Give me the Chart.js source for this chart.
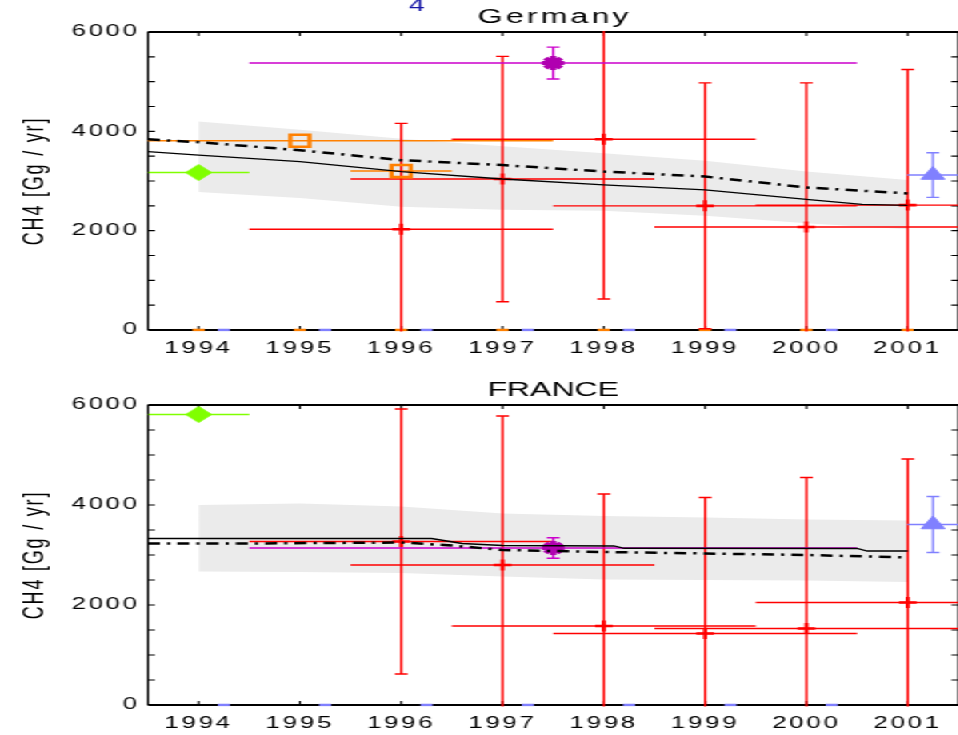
<!DOCTYPE html>
<html>
<head>
<meta charset="utf-8">
<script src="https://cdn.jsdelivr.net/npm/chart.js@4.4.1/dist/chart.umd.min.js"></script>
<style>
  html, body { margin: 0; padding: 0; overflow: hidden; background: #fff; }
  /* the source picture is stretched sideways, so is this one */
  #wrap { position: absolute; left: 0; top: 0; width: 610px; height: 735px;
          transform: scaleX(1.6); transform-origin: 0 0; }
  #wrap canvas { position: absolute; left: 0; }
</style>
</head>
<body>
<div id="wrap">
  <canvas id="germany" width="610" height="365" style="top:0"></canvas>
  <canvas id="france" width="610" height="362" style="top:373px"></canvas>
</div>
<script>
(function () {
  'use strict';

  // axes
  const xTicks = [1994, 1995, 1996, 1997, 1998, 1999, 2000, 2001];
  const xTickLabels = ['1994', '1995', '1996', '1997', '1998', '1999', '2000', '2001'];
  const yTicks = [0, 2000, 4000, 6000];
  const yTickLabels = ['0', '2000', '4000', '6000'];
  const yMinorStep = 500;

  // Germany
  const deBandYears = [1994, 1995, 1996, 1997, 1998, 1999, 2000, 2001];
  const deBandHigh = [4200, 4030, 3850, 3700, 3560, 3410, 3190, 3020];
  const deBandLow = [2780, 2660, 2480, 2420, 2400, 2300, 2150, 2030];
  const deSolidYears = [1993.5, 1994, 1995, 1996, 1997, 1998, 1999, 2000, 2000.55, 2001];
  const deSolid = [3590, 3520, 3390, 3190, 3040, 2920, 2820, 2630, 2530, 2510];
  const deDashYears = [1993.5, 1994, 1995, 1996, 1997, 1998, 1999, 2000, 2001];
  const deDash = [3840, 3780, 3620, 3420, 3320, 3190, 3090, 2870, 2750];
  const deRedYears = [1996, 1997, 1998, 1999, 2000, 2001];
  const deRed = [2030, 3040, 3840, 2500, 2075, 2515];
  const deRedErr = [2130, 2470, 3215, 2475, 2900, 2730];
  const deMagentaYears = [1997.5];
  const deMagenta = [5375];
  const deMagentaErr = [320];
  const deGreenYears = [1994];
  const deGreen = [3170];
  const deOrangeYears = [1995, 1996];
  const deOrange = [3810, 3200];
  const deOrangeXErr = [2.5, 0.5];
  const deBlueYears = [2001.25];
  const deBlue = [3120];
  const deBlueErr = [450];
  const deOrangeZeroYears = [1994, 1995, 1996, 1997, 1998, 1999, 2000, 2001];
  const deOrangeZero = [0, 0, 0, 0, 0, 0, 0, 0];
  const deBlueZeroYears = [1994.25, 1995.25, 1996.25, 1997.25, 1998.25, 1999.25, 2000.25];
  const deBlueZero = [0, 0, 0, 0, 0, 0, 0];

  // France
  const frBandYears = [1994, 1995, 1996, 1997, 1998, 1999, 2000, 2001];
  const frBandHigh = [4000, 4030, 3970, 3830, 3780, 3750, 3710, 3690];
  const frBandLow = [2670, 2660, 2640, 2570, 2510, 2500, 2490, 2460];
  const frSolidYears = [1993.5, 1996.3, 1996.6, 1997, 1998.1, 1998.2, 2000.5, 2000.6, 2001];
  const frSolid = [3330, 3330, 3230, 3190, 3180, 3135, 3130, 3080, 3080];
  const frDashYears = [1993.5, 1994.5, 1996, 1996.5, 1997, 1998, 1999, 2000, 2001];
  const frDash = [3230, 3230, 3250, 3190, 3100, 3060, 3030, 3000, 2950];
  const frRedYears = [1996, 1997, 1998, 1999, 2000, 2001];
  const frRed = [3270, 2800, 1580, 1430, 1530, 2050];
  const frRedErr = [2650, 2980, 2640, 2720, 3020, 2870];
  const frMagentaYears = [1997.5];
  const frMagenta = [3140];
  const frMagentaErr = [205];
  const frGreenYears = [1994];
  const frGreen = [5810];
  const frBlueYears = [2001.25];
  const frBlue = [3610];
  const frBlueErr = [560];
  const frBlueZeroYears = [1994.25, 1995.25, 1996.25, 1997.25, 1998.25, 1999.25, 2000.25];
  const frBlueZero = [0, 0, 0, 0, 0, 0, 0];

  const RED = '#ff0000';
  const ORANGE = '#ff8000';
  const GREEN = '#80ff00';
  const MAGENTA = '#c000c0';
  const BLUE = '#8080ff';
  const FONT = '"Liberation Sans", Arial, sans-serif';

  function pts(xs, ys) {
    return xs.map((x, i) => ({ x: x, y: ys[i] }));
  }

  function lineSet(xs, ys, extra) {
    return Object.assign({ data: pts(xs, ys), pointRadius: 0, fill: false, borderColor: '#000' }, extra);
  }

  function markerSet(xs, ys, extra) {
    return Object.assign({ data: pts(xs, ys), showLine: false, pointHoverRadius: 0 }, extra);
  }

  // error bars, frame with inward ticks, panel title
  function panelPlugin(bars, title, spacing, note) {
    return {
      id: 'panel',
      beforeDraw(chart) {
        chart.ctx.letterSpacing = '1.8px';
      },
      beforeDatasetsDraw(chart) {
        const ctx = chart.ctx;
        const a = chart.chartArea;
        const x = chart.scales.x;
        const y = chart.scales.y;
        ctx.save();
        ctx.strokeStyle = '#000';
        ctx.lineWidth = 2;
        ctx.beginPath();
        ctx.moveTo(a.left, a.top); ctx.lineTo(a.right, a.top);
        ctx.moveTo(a.left, a.bottom); ctx.lineTo(a.right, a.bottom);
        ctx.stroke();
        ctx.lineWidth = 1.2;
        ctx.beginPath();
        ctx.moveTo(a.left, a.top); ctx.lineTo(a.left, a.bottom);
        ctx.moveTo(a.right, a.top); ctx.lineTo(a.right, a.bottom);
        for (let v = y.min; v <= y.max; v += yMinorStep) {
          const py = y.getPixelForValue(v);
          ctx.moveTo(a.left, py); ctx.lineTo(a.left + 4.4, py);
          ctx.moveTo(a.right, py); ctx.lineTo(a.right - 4.4, py);
        }
        ctx.stroke();
        ctx.lineWidth = 1.1;
        ctx.beginPath();
        xTicks.forEach(v => {
          const px = x.getPixelForValue(v);
          ctx.moveTo(px, a.top); ctx.lineTo(px, a.top + 4);
          ctx.moveTo(px, a.bottom); ctx.lineTo(px, a.bottom - 4);
        });
        ctx.stroke();

        ctx.beginPath();
        ctx.rect(a.left, a.top - 1, a.right - a.left, a.bottom - a.top + 2.5);
        ctx.clip();
        bars.forEach(b => {
          ctx.strokeStyle = b.color;
          ctx.lineWidth = b.width;
          ctx.beginPath();
          b.xs.forEach((xv, i) => {
            const yv = b.ys[i];
            const dx = Array.isArray(b.xerr) ? b.xerr[i] : b.xerr;
            const py = y.getPixelForValue(yv);
            ctx.moveTo(x.getPixelForValue(xv - dx), py);
            ctx.lineTo(x.getPixelForValue(xv + dx), py);
            if (b.yerr) {
              const px = x.getPixelForValue(xv);
              const y1 = y.getPixelForValue(yv - b.yerr[i]);
              const y2 = y.getPixelForValue(yv + b.yerr[i]);
              ctx.moveTo(px, y1); ctx.lineTo(px, y2);
              ctx.moveTo(px - 4, y1); ctx.lineTo(px + 4, y1);
              ctx.moveTo(px - 4, y2); ctx.lineTo(px + 4, y2);
            }
          });
          ctx.stroke();
        });
        ctx.restore();
      },
      afterDraw(chart) {
        const ctx = chart.ctx;
        const a = chart.chartArea;
        ctx.save();
        ctx.fillStyle = '#000';
        ctx.font = '20px ' + FONT;
        ctx.letterSpacing = spacing + 'px';
        ctx.textAlign = 'center';
        ctx.textBaseline = 'alphabetic';
        ctx.fillText(title, (a.left + a.right) / 2 + spacing / 2, a.top - 9.5);
        if (note) {
          ctx.fillStyle = '#1818a8';
          ctx.font = '18px ' + FONT;
          ctx.letterSpacing = '0px';
          ctx.fillText(note, 260.5, 10.5);
        }
        ctx.restore();
      }
    };
  }

  function makePanel(canvasId, axisHeight, datasets, bars, title, spacing, note) {
    const tickFont = { family: FONT, size: 16 };
    return new Chart(document.getElementById(canvasId), {
      type: 'line',
      data: { datasets: datasets },
      options: {
        responsive: false,
        animation: false,
        layout: { padding: { top: 32, right: 8.75, left: 0, bottom: 0 } },
        plugins: {
          legend: { display: false },
          tooltip: { enabled: false },
          filler: { drawTime: 'beforeDatasetsDraw' }
        },
        scales: {
          x: {
            type: 'linear',
            min: 1993.5,
            max: 2001.5,
            grid: { display: false, drawTicks: false },
            border: { display: false },
            afterBuildTicks: s => { s.ticks = xTicks.map(v => ({ value: v })); },
            afterFit: s => { s.height = axisHeight; },
            ticks: {
              autoSkip: false,
              maxRotation: 0,
              padding: 9,
              color: '#000',
              font: tickFont,
              callback: (v, i) => xTickLabels[i]
            }
          },
          y: {
            type: 'linear',
            min: 0,
            max: 6000,
            grid: { display: false, drawTicks: false },
            border: { display: false },
            afterBuildTicks: s => { s.ticks = yTicks.map(v => ({ value: v })); },
            afterFit: s => { s.width = 92.5; },
            ticks: {
              padding: 5,
              color: '#000',
              font: tickFont,
              callback: (v, i) => yTickLabels[i]
            },
            title: {
              display: true,
              text: 'CH4 [Gg / yr]',
              color: '#000',
              font: { family: FONT, size: 18 },
              padding: { top: 11, bottom: 0 }
            }
          }
        }
      },
      plugins: [panelPlugin(bars, title, spacing, note)]
    });
  }

  function panelDatasets(d) {
    return [
      lineSet(d.bandYears, d.bandHigh, { borderWidth: 0, borderColor: 'rgba(0,0,0,0)', fill: '+1', backgroundColor: '#ebebeb' }),
      lineSet(d.bandYears, d.bandLow, { borderWidth: 0, borderColor: 'rgba(0,0,0,0)' }),
      lineSet(d.solidYears, d.solid, { borderWidth: 1.3 }),
      lineSet(d.dashYears, d.dash, { borderWidth: 2.5, borderDash: [7.5, 4.4, 2, 4.4] }),
      markerSet(d.redYears, d.red, { pointStyle: 'cross', pointRadius: 5.5, pointBorderWidth: 2.6, pointBorderColor: RED, pointBackgroundColor: RED }),
      markerSet(d.magentaYears, d.magenta, { pointStyle: 'star', pointRadius: 7, pointBorderWidth: 4, pointBorderColor: '#b000b0', pointBackgroundColor: '#b000b0' }),
      markerSet(d.greenYears, d.green, { pointStyle: 'rectRot', pointRadius: 8, pointBorderWidth: 1, pointBorderColor: GREEN, pointBackgroundColor: GREEN }),
      markerSet(d.orangeYears || [], d.orange || [], { pointStyle: 'rect', pointRadius: 8.5, pointBorderWidth: 2.6, pointBorderColor: ORANGE, pointBackgroundColor: 'rgba(0,0,0,0)' }),
      markerSet(d.blueYears, d.blue, { pointStyle: 'triangle', pointRadius: 8.5, pointBorderWidth: 1, pointBorderColor: BLUE, pointBackgroundColor: BLUE })
    ];
  }

  makePanel('germany', 35, panelDatasets({
    bandYears: deBandYears, bandHigh: deBandHigh, bandLow: deBandLow,
    solidYears: deSolidYears, solid: deSolid, dashYears: deDashYears, dash: deDash,
    redYears: deRedYears, red: deRed, magentaYears: deMagentaYears, magenta: deMagenta,
    greenYears: deGreenYears, green: deGreen, orangeYears: deOrangeYears, orange: deOrange,
    blueYears: deBlueYears, blue: deBlue
  }), [
    { xs: deOrangeZeroYears, ys: deOrangeZero, xerr: 0.06, color: ORANGE, width: 2.5 },
    { xs: deBlueZeroYears, ys: deBlueZero, xerr: 0.06, color: BLUE, width: 2.5 },
    { xs: deGreenYears, ys: deGreen, xerr: 0.5, color: GREEN, width: 1.4 },
    { xs: deOrangeYears, ys: deOrange, xerr: deOrangeXErr, color: ORANGE, width: 1.4 },
    { xs: deRedYears, ys: deRed, xerr: 1.5, yerr: deRedErr, color: RED, width: 1.4 },
    { xs: deMagentaYears, ys: deMagenta, xerr: 3, yerr: deMagentaErr, color: '#cc00cc', width: 1.4 },
    { xs: deBlueYears, ys: deBlue, xerr: 0.25, yerr: deBlueErr, color: BLUE, width: 1.4 }
  ], 'Germany', 2, '4');

  makePanel('france', 30, panelDatasets({
    bandYears: frBandYears, bandHigh: frBandHigh, bandLow: frBandLow,
    solidYears: frSolidYears, solid: frSolid, dashYears: frDashYears, dash: frDash,
    redYears: frRedYears, red: frRed, magentaYears: frMagentaYears, magenta: frMagenta,
    greenYears: frGreenYears, green: frGreen, blueYears: frBlueYears, blue: frBlue
  }), [
    { xs: frBlueZeroYears, ys: frBlueZero, xerr: 0.06, color: BLUE, width: 2.5 },
    { xs: frGreenYears, ys: frGreen, xerr: 0.5, color: GREEN, width: 1.4 },
    { xs: frRedYears, ys: frRed, xerr: 1.5, yerr: frRedErr, color: RED, width: 1.4 },
    { xs: frMagentaYears, ys: frMagenta, xerr: 3, yerr: frMagentaErr, color: '#cc00cc', width: 1.4 },
    { xs: frBlueYears, ys: frBlue, xerr: 0.25, yerr: frBlueErr, color: BLUE, width: 1.4 }
  ], 'FRANCE', 0, null);
})();
</script>
</body>
</html>
